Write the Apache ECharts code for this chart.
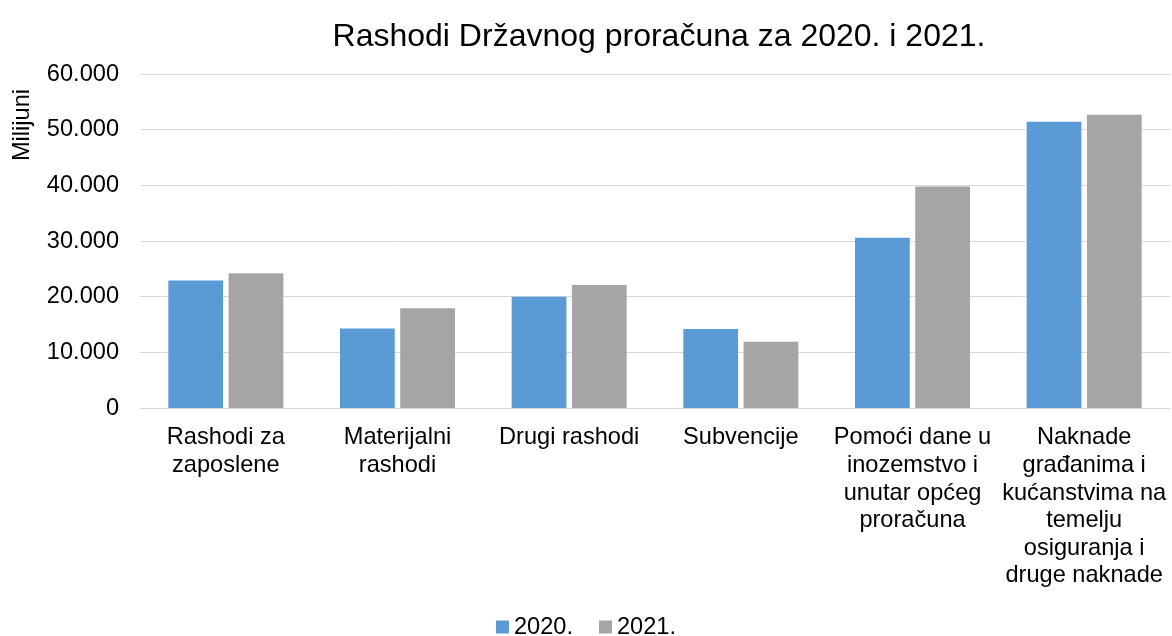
<!DOCTYPE html>
<html>
<head>
<meta charset="utf-8">
<script src="https://cdn.jsdelivr.net/npm/echarts@6/dist/echarts.min.js"></script>
<style>
html,body{margin:0;padding:0;background:#fff;}
#chart{width:1172px;height:636px;}
</style>
</head>
<body>
<div id="chart"></div>
<script>
const chartTitle = 'Rashodi Državnog proračuna za 2020. i 2021.';
const yAxisTitle = 'Milijuni';
const categories = [
  'Rashodi za\nzaposlene',
  'Materijalni\nrashodi',
  'Drugi rashodi',
  'Subvencije',
  'Pomoći dane u\ninozemstvo i\nunutar općeg\nproračuna',
  'Naknade\ngrađanima i\nkućanstvima na\ntemelju\nosiguranja i\ndruge naknade'
];
const seriesNames = ['2020.', '2021.'];
const values2020 = [22900, 14300, 20000, 14200, 30600, 51400];
const values2021 = [24200, 17900, 22100, 11900, 39800, 52700];
const yTickValues = [0, 10000, 20000, 30000, 40000, 50000, 60000];
const yTickLabels = ['0', '10.000', '20.000', '30.000', '40.000', '50.000', '60.000'];

const FONT = "'Liberation Sans', Arial, sans-serif";
const chart = echarts.init(document.getElementById('chart'));
chart.setOption({
  backgroundColor: '#fff',
  animation: false,
  title: {
    text: chartTitle,
    left: 654,
    textAlign: 'center',
    top: 16,
    textStyle: { fontFamily: FONT, fontSize: 32, fontWeight: 'normal', color: '#000' }
  },
  graphic: [{
    type: 'text',
    x: 22,
    y: 125,
    rotation: Math.PI / 2,
    style: {
      text: yAxisTitle,
      font: "23.6px 'Liberation Sans', Arial, sans-serif",
      fill: '#000',
      align: 'center',
      verticalAlign: 'middle'
    }
  }],
  legend: {
    data: seriesNames,
    left: 'center',
    top: 610,
    itemWidth: 13,
    itemHeight: 13,
    itemGap: 26,
    icon: 'rect',
    textStyle: { fontFamily: FONT, fontSize: 23.6, color: '#000', lineHeight: 24 }
  },
  grid: { left: 140, right: 2, top: 74, bottom: 228, containLabel: false },
  xAxis: {
    type: 'category',
    data: categories,
    axisLine: { show: true, lineStyle: { color: '#D9D9D9', width: 1 } },
    axisTick: { show: false },
    axisLabel: {
      interval: 0,
      margin: 16,
      fontFamily: FONT,
      fontSize: 23.6,
      lineHeight: 27.6,
      color: '#000',
      align: 'center'
    }
  },
  yAxis: {
    type: 'value',
    min: 0,
    max: 60000,
    interval: 10000,
    axisLine: { show: false },
    axisTick: { show: false },
    splitLine: { show: true, lineStyle: { color: '#D9D9D9', width: 1 } },
    axisLabel: {
      margin: 21,
      fontFamily: FONT,
      fontSize: 23.6,
      color: '#000',
      formatter: function (v) {
        const i = yTickValues.indexOf(v);
        return i >= 0 ? yTickLabels[i] : '';
      }
    }
  },
  series: [
    {
      name: seriesNames[0],
      type: 'bar',
      data: values2020,
      barGap: '10%',
      barCategoryGap: '33%',
      itemStyle: { color: '#5B9BD5' }
    },
    {
      name: seriesNames[1],
      type: 'bar',
      data: values2021,
      barGap: '10%',
      barCategoryGap: '33%',
      itemStyle: { color: '#A5A5A5' }
    }
  ]
});
</script>
</body>
</html>
